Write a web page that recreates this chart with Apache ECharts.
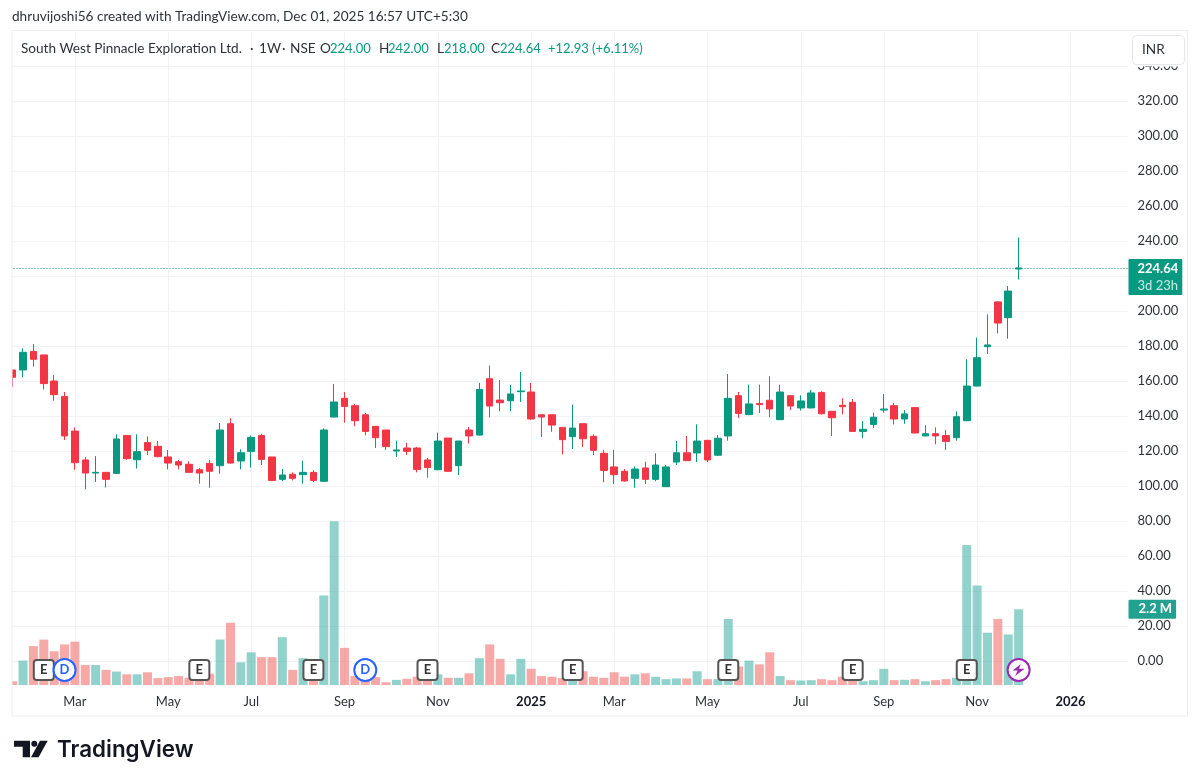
<!DOCTYPE html>
<html>
<head>
<meta charset="utf-8">
<style>
  html, body { margin: 0; padding: 0; background: #fff; }
  #main { width: 1200px; height: 784px; }
</style>
<script src="https://cdn.jsdelivr.net/npm/echarts@6/dist/echarts.min.js"></script>
</head>
<body>
<div id="main"></div>
<script>
// weekly candles
var opens = [
  166.3,166.3,176.9,174.9,160.0,151.2,131.4,114.9,107.4,107.8,
  107.2,128.9,115.0,124.8,122.7,116.6,113.9,112.4,109.3,112.9,
  111.6,135.6,114.3,119.8,128.9,116.6,103.8,106.7,106.5,107.8,
  102.7,139.4,150.1,145.9,140.7,134.1,132.0,120.0,121.7,121.7,
  114.9,109.3,127.4,111.6,132.0,129.1,161.3,149.1,148.7,153.9,
  153.7,140.7,140.7,133.5,128.2,135.6,128.4,118.7,110.9,108.4,
  104.4,110.3,103.8,99.6,113.7,119.0,118.9,126.1,117.6,128.6,
  151.6,140.8,147.2,149.0,137.9,151.6,144.6,144.6,153.5,142.7,
  146.1,147.8,131.2,135.2,143.4,145.9,138.3,144.8,128.6,129.9,
  128.8,127.6,137.3,157.1,179.6,205.2,196.2,224.0
];
var closes = [
  162.1,176.4,172.4,158.5,152.2,128.6,113.3,107.4,107.8,103.8,
  126.9,115.6,119.6,120.4,116.8,113.1,112.0,107.8,107.4,108.4,
  132.0,113.1,119.0,127.8,115.2,103.2,106.3,104.4,107.8,103.2,
  132.0,148.0,145.5,137.3,131.2,127.6,122.5,120.6,119.8,109.5,
  110.5,125.7,108.4,125.7,128.6,155.2,145.7,147.6,152.6,154.3,
  138.3,139.4,134.8,126.5,133.1,127.0,120.4,108.9,106.5,102.9,
  109.7,103.8,112.0,110.9,119.0,114.5,125.7,114.9,127.3,150.1,
  141.5,146.9,146.5,144.0,153.7,145.7,148.6,153.2,141.3,139.0,
  145.3,131.2,132.4,139.3,144.0,138.3,141.2,130.3,129.9,128.6,
  125.5,139.6,157.1,173.3,180.6,193.1,211.4,224.64
];
var lows = [
  156.7,162.1,168.2,155.2,148.8,126.3,109.3,98.1,102.3,99.2,
  106.9,115.0,110.0,117.7,116.4,109.5,109.5,107.4,101.3,99.0,
  107.0,112.8,109.5,110.5,112.0,103.0,102.7,103.2,101.3,102.3,
  102.5,139.2,136.2,134.1,128.9,121.7,120.6,116.6,117.7,107.8,
  104.7,109.0,108.2,106.3,124.2,128.9,139.2,142.8,142.8,148.0,
  137.9,128.0,131.0,118.1,121.1,122.3,117.7,102.1,101.1,102.5,
  99.0,101.1,102.7,99.5,112.0,114.3,113.7,113.7,117.1,125.9,
  138.9,140.4,141.7,139.4,137.7,143.4,143.1,144.4,140.8,128.6,
  141.0,131.0,127.4,133.1,141.9,135.2,135.6,130.1,128.5,123.8,
  120.6,125.9,137.1,157.0,175.4,187.2,184.2,218.0
];
var highs = [
  166.5,178.7,181.1,174.9,163.4,153.7,133.5,116.6,117.1,107.8,
  129.5,128.9,129.5,128.4,125.7,120.6,114.9,114.1,110.3,114.9,
  136.0,138.7,120.9,128.9,129.9,116.6,109.7,107.8,114.5,109.1,
  132.9,158.3,153.7,147.0,141.7,134.1,132.0,125.9,124.7,122.3,
  116.0,130.5,127.4,125.7,133.7,158.9,168.8,160.6,157.7,165.1,
  158.9,140.7,140.7,133.5,146.5,135.6,129.5,120.6,120.6,109.7,
  111.2,113.9,118.7,112.0,125.7,128.6,135.2,126.3,129.1,164.0,
  153.7,157.9,157.9,162.7,157.9,151.6,151.8,154.9,154.1,142.7,
  150.1,149.7,137.1,141.9,152.6,147.4,143.4,144.8,134.7,133.5,
  132.0,142.7,172.4,184.8,198.1,205.7,214.3,242.0
];
// volume in millions
var volumes = [
  0.11,0.71,1.13,1.32,0.98,1.18,1.26,0.58,0.58,0.44,
  0.39,0.31,0.31,0.37,0.20,0.23,0.26,0.21,0.23,0.33,
  1.32,1.81,0.66,0.95,0.81,0.81,1.39,0.44,0.78,0.23,
  2.60,4.76,1.08,0.26,0.18,0.23,0.08,0.15,0.18,0.24,
  0.12,0.31,0.21,0.21,0.34,0.78,1.18,0.76,0.31,0.76,
  0.47,0.26,0.24,0.20,0.14,0.40,0.24,0.21,0.37,0.24,
  0.31,0.34,0.24,0.17,0.19,0.19,0.40,0.17,0.17,1.92,
  0.54,0.71,0.60,0.95,0.26,0.14,0.13,0.14,0.17,0.14,
  0.24,0.12,0.11,0.14,0.47,0.14,0.15,0.17,0.11,0.14,
  0.17,0.21,4.07,2.89,1.52,1.92,1.47,2.20
];
var priceTicks = [0,20,40,60,80,100,120,140,160,180,200,220,240,260,280,300,320,340];
var tickLabels = {
  '2024-03-04': 'Mar', '2024-05-06': 'May', '2024-07-01': 'Jul', '2024-09-02': 'Sep',
  '2024-11-04': 'Nov', '2025-01-06': '{y|2025}', '2025-03-03': 'Mar', '2025-05-05': 'May',
  '2025-07-07': 'Jul', '2025-09-01': 'Sep', '2025-11-03': 'Nov', '2026-01-05': '{y|2026}'
};
var earningsBars = [3, 18, 29, 40, 54, 69, 81, 92];
var dividendBars = [5, 34];
var flashBars = [97];
var lastPrice = 224.64;
var lastVolume = 2.2;

var UP = '#089981', DOWN = '#F23645';
var FONT = 'Lato, "Noto Sans", sans-serif';
var TEXT = '#2e3238';

// one category per week, the last few are empty space on the right
var categories = [];
for (var w = 0; w < 108; w++) {
  categories.push(new Date(Date.UTC(2024, 0, 22 + w * 7)).toISOString().slice(0, 10));
}

var candles = opens.map(function (o, i) { return [o, closes[i], lows[i], highs[i]]; });
var volumeBars = volumes.map(function (v, i) {
  return { value: v, itemStyle: { color: closes[i] >= opens[i] ? 'rgba(38,166,154,.5)' : 'rgba(239,83,80,.5)' } };
});
var MARKER_Y = -5.14; // price axis position of the event badges
function markerData(list) {
  return list.map(function (i) { return [categories[i], MARKER_Y]; });
}
function isTick(index, value) { return tickLabels[value] !== undefined; }

function txt(x, y, text, fill, font) {
  return {
    type: 'text', x: x, y: y, z: 110, silent: true,
    style: { text: text, fill: fill, font: font || ('13.6px ' + FONT), verticalAlign: 'middle', align: 'left' }
  };
}
function num(x, text) { return txt(x, 48.5, text, UP, '13px ' + FONT); }

var chart = echarts.init(document.getElementById('main'));
chart.setOption({
  animation: false,
  backgroundColor: '#fff',
  textStyle: { fontFamily: FONT },
  grid: { left: 7.5, right: 72.5, top: 32, bottom: 99, containLabel: false },
  xAxis: {
    type: 'category',
    data: categories,
    boundaryGap: true,
    axisLine: { show: false },
    axisTick: { show: false, alignWithLabel: true },
    splitLine: { show: true, alignWithLabel: true, interval: isTick, lineStyle: { color: '#f1f2f5', width: 1 } },
    axisLabel: {
      interval: isTick,
      margin: 10,
      color: TEXT,
      fontSize: 13,
      fontFamily: FONT,
      formatter: function (v) { return tickLabels[v]; },
      rich: { y: { fontWeight: 'bold', fontSize: 13, color: '#131722', fontFamily: FONT } }
    }
  },
  yAxis: [
    {
      type: 'value',
      position: 'right',
      min: -13.714,
      max: 359.43,
      axisLine: { show: false },
      axisTick: { show: false, customValues: priceTicks },
      splitLine: { show: true, lineStyle: { color: '#f1f2f5', width: 1 } },
      axisLabel: {
        customValues: priceTicks,
        margin: 10,
        padding: [2, 0, 0, 0],
        color: TEXT,
        fontSize: 13,
        fontFamily: FONT,
        formatter: function (v) { return v.toFixed(2); }
      }
    },
    { type: 'value', min: 0, max: 18.98, show: false, splitLine: { show: false } }
  ],
  series: [
    {
      type: 'bar',
      name: 'Volume',
      yAxisIndex: 1,
      data: volumeBars,
      barWidth: 9,
      z: 2,
      markLine: {
        silent: true,
        symbol: 'none',
        lineStyle: { color: 'transparent', width: 0 },
        data: [{ yAxis: lastVolume }],
        label: {
          show: true,
          position: 'end',
          distance: 1,
          formatter: lastVolume + ' M',
          color: '#fff',
          fontSize: 13,
          fontWeight: 'bold',
          fontFamily: FONT,
          backgroundColor: '#22A190',
          padding: [3, 4, 3, 10],
          borderRadius: 1
        }
      }
    },
    {
      type: 'candlestick',
      name: 'Price',
      data: candles,
      barWidth: 7,
      z: 3,
      itemStyle: { color: UP, color0: DOWN, borderColor: UP, borderColor0: DOWN, borderWidth: 1 },
      markLine: {
        silent: true,
        symbol: 'none',
        lineStyle: { color: UP, type: [1, 2], width: 1 },
        data: [{ yAxis: lastPrice }],
        label: {
          position: 'end',
          distance: 1,
          offset: [0, 9],
          formatter: '{p|' + lastPrice.toFixed(2) + '}\n{t|3d 23h}',
          backgroundColor: UP,
          padding: [1, 4, 1, 9],
          borderRadius: 1,
          rich: {
            p: { color: '#fff', fontSize: 13, fontWeight: 'bold', fontFamily: FONT, lineHeight: 17 },
            t: { color: '#c8ebe4', fontSize: 13, fontFamily: FONT, lineHeight: 17 }
          }
        }
      }
    },
    {
      type: 'scatter',
      name: 'Earnings',
      data: markerData(earningsBars),
      symbol: 'path://M3 0H17A3 3 0 0 1 20 3V17A3 3 0 0 1 17 20H3A3 3 0 0 1 0 17V3A3 3 0 0 1 3 0Z',
      symbolSize: 20,
      z: 5,
      silent: true,
      itemStyle: { color: '#fff', borderColor: '#555', borderWidth: 2, opacity: 1 },
      label: { show: true, position: 'inside', formatter: 'E', color: '#333', fontSize: 13, fontWeight: 'bold', fontFamily: FONT }
    },
    {
      type: 'scatter',
      name: 'Dividends',
      data: markerData(dividendBars),
      symbol: 'circle',
      symbolSize: 22,
      z: 5,
      silent: true,
      itemStyle: { color: '#fff', borderColor: '#2962FF', borderWidth: 2, opacity: 1 },
      label: { show: true, position: 'inside', formatter: 'D', color: '#2962FF', fontSize: 13, fontWeight: 'bold', fontFamily: FONT }
    },
    {
      type: 'scatter',
      name: 'News',
      data: markerData(flashBars),
      symbol: 'circle',
      symbolSize: 22,
      z: 5,
      silent: true,
      itemStyle: { color: '#fff', borderColor: '#9C27B0', borderWidth: 2, opacity: 1 }
    },
    {
      type: 'scatter',
      name: 'NewsBolt',
      data: markerData(flashBars),
      symbol: 'path://M14 0 L1 11 H9 L5 20 L20 8 H11 Z',
      symbolSize: 12,
      z: 6,
      silent: true,
      itemStyle: { color: '#9C27B0', opacity: 1 }
    }
  ],
  graphic: [
    // hides the part of the first candle left of the frame
    { type: 'rect', z: 100, silent: true, shape: { x: 0, y: 31, width: 12, height: 686 }, style: { fill: '#fff' } },
    // the top price label slides under the currency button
    { type: 'rect', z: 100, silent: true, shape: { x: 1128, y: 31, width: 59, height: 35.5 }, style: { fill: '#fff' } },
    { type: 'rect', z: 101, silent: true, shape: { x: 12, y: 30.5, width: 1175.5, height: 685.5 }, style: { fill: 'none', stroke: '#eceef1', lineWidth: 1 } },
    { type: 'rect', z: 102, silent: true, shape: { x: 1132.5, y: 35.5, width: 52, height: 29, r: 4 }, style: { fill: '#fff', stroke: '#e4e6eb', lineWidth: 1 } },
    txt(1142, 50, 'INR', TEXT),
    txt(12, 17, 'dhruvijoshi56 created with TradingView.com, Dec 01, 2025 16:57 UTC+5:30', TEXT),
    txt(21, 48.5, 'South West Pinnacle Exploration Ltd.', TEXT),
    txt(250, 48.5, '\u00b7', TEXT), txt(259, 48.5, '1W', TEXT),
    txt(282, 48.5, '\u00b7', TEXT), txt(290, 48.5, 'NSE', TEXT),
    txt(320, 48.5, 'O', TEXT), num(330, '224.00'),
    txt(379, 48.5, 'H', TEXT), num(388, '242.00'),
    txt(437, 48.5, 'L', TEXT), num(444, '218.00'),
    txt(491, 48.5, 'C', TEXT), num(500, '224.64'),
    num(548, '+12.93 (+6.11%)'),
    // TradingView logo
    { type: 'polygon', z: 110, silent: true, shape: { points: [[14, 740.7], [30, 740.7], [30, 757.3], [22.7, 757.3], [22.7, 746.7], [14, 746.7]] }, style: { fill: '#131722' } },
    { type: 'circle', z: 110, silent: true, shape: { cx: 34.3, cy: 743.7, r: 3 }, style: { fill: '#131722' } },
    { type: 'polygon', z: 110, silent: true, shape: { points: [[40, 740.7], [47.7, 740.7], [38.6, 757.3], [31, 757.3]] }, style: { fill: '#131722' } },
    txt(57, 750.5, 'TradingView', '#131722', '600 22.4px Inter, sans-serif')
  ]
});
</script>
</body>
</html>
